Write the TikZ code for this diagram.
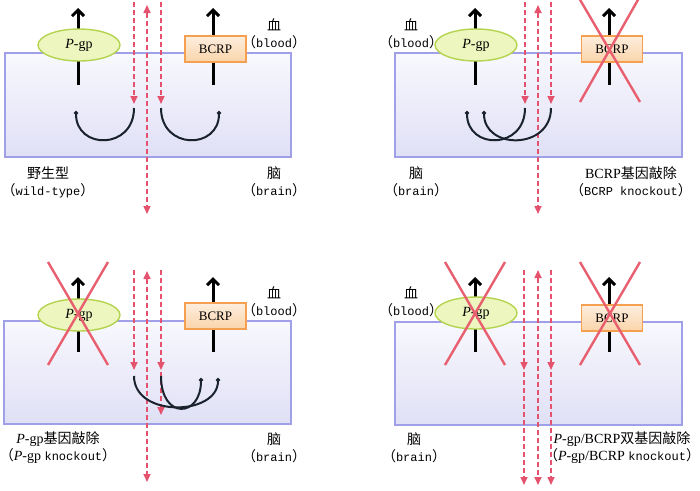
\documentclass[tikz,border=0pt]{standalone}
\usepackage{fontspec}
\setmainfont{Liberation Serif}
\newfontfamily\cjk{Noto Sans CJK SC}
\newfontfamily\latn{Liberation Mono}
\usetikzlibrary{arrows.meta,shapes.geometric}
\definecolor{layerline}{RGB}{160,160,232}
\definecolor{layertop}{RGB}{248,248,254}
\definecolor{layerbot}{RGB}{224,224,246}
\definecolor{pgpfill}{RGB}{236,246,190}
\definecolor{pgpline}{RGB}{180,212,80}
\definecolor{bcrptop}{RGB}{253,238,222}
\definecolor{bcrpbot}{RGB}{250,212,170}
\definecolor{bcrpline}{RGB}{244,160,80}
\definecolor{xred}{RGB}{232,96,112}
\definecolor{leakred}{RGB}{228,82,110}
\definecolor{backcol}{RGB}{25,35,45}
\newcommand{\zh}[1]{{\cjk #1}}
\newcommand{\en}[1]{{\latn\fontsize{12}{17}\selectfont #1}}
\tikzset{
  layer/.style={draw=layerline,line width=1.4pt,top color=layertop,bottom color=layerbot,inner sep=0pt},
  pgp/.style={ellipse,draw=pgpline,line width=1.4pt,fill=pgpfill,minimum width=82pt,minimum height=32pt,inner sep=0pt,font=\fontsize{14}{16}\selectfont},
  bcrp/.style={draw=bcrpline,line width=1.4pt,top color=bcrptop,bottom color=bcrpbot,minimum width=61pt,minimum height=26pt,inner sep=0pt,font=\fontsize{13}{15}\selectfont},
  pump/.style={line width=3pt,-{Straight Barb[length=6pt,width=12pt]}},
  leak/.style={draw=leakred,line width=1.6pt,dash pattern=on 5pt off 3pt,-{Triangle[length=8pt,width=7pt]}},
  leakboth/.style={leak,{Triangle[length=8pt,width=7pt]}-{Triangle[length=8pt,width=7pt]}},
  back/.style={draw=backcol,line width=2pt,-{Circle[length=4pt]}},
  knock/.style={draw=xred,line width=2.4pt},
  lbl/.style={font=\fontsize{14}{17}\selectfont,align=center,inner sep=0pt}
}
\begin{document}
\begin{tikzpicture}[x=1pt,y=-1pt]
\useasboundingbox (0,0) rectangle (700,490);

% wild type
\node[layer,minimum width=286pt,minimum height=104pt] (brain1) at (148,105) {};
\draw[pump] (78,85) coordinate (p1b) -- (78,8) coordinate (p1t);
\node[pgp] (pgp1) at (79,45) {\textit{P}-gp};
\draw[pump] (213,85) coordinate (b1b) -- (213,8) coordinate (b1t);
\node[bcrp] (bcrp1) at (215.5,49) {BCRP};
\draw[leak] (134,2) coordinate (l1t) -- (134,104) coordinate (l1b);
\draw[leak] (161,2) coordinate (r1t) -- (161,104) coordinate (r1b);
\draw[leakboth] (147,5) coordinate (m1t) -- (147,214) coordinate (m1b);
\draw[back] (134,108) .. controls (134,150) and (76,150) .. (76,111);
\draw[back] (161,108) .. controls (161,150) and (219,150) .. (219,111);
\node[lbl] (blood1) at (274,34) {\zh{血}\\\zh{（}\en{blood}\zh{）}};
\node[lbl] (wt) at (48,182) {\zh{野生型}\\\zh{（}\en{wild-type}\zh{）}};
\node[lbl] (brainl1) at (274,182) {\zh{脑}\\\zh{（}\en{brain}\zh{）}};

% BCRP knockout
\node[layer,minimum width=287pt,minimum height=104pt] (brain2) at (538.5,105) {};
\draw[pump] (475,85) coordinate (p2b) -- (475,8) coordinate (p2t);
\node[pgp] (pgp2) at (476,45) {\textit{P}-gp};
\draw[pump] (609,85) coordinate (b2b) -- (609,8) coordinate (b2t);
\node[bcrp] (bcrp2) at (612,49) {BCRP};
\draw[knock] (579,-2) -- (640,102);
\draw[knock] (639,-2) -- (580,102);
\draw[leak] (525,2) coordinate (l2t) -- (525,104) coordinate (l2b);
\draw[leak] (551,2) coordinate (r2t) -- (551,104) coordinate (r2b);
\draw[leakboth] (538,5) coordinate (m2t) -- (538,214) coordinate (m2b);
\draw[back] (525,108) .. controls (525,150) and (467,150) .. (467,111);
\draw[back] (551,108) .. controls (551,150) and (484,150) .. (484,111);
\node[lbl] (blood2) at (411,34) {\zh{血}\\\zh{（}\en{blood}\zh{）}};
\node[lbl] (brainl2) at (416,182) {\zh{脑}\\\zh{（}\en{brain}\zh{）}};
\node[lbl] (ko2) at (631,182) {BCRP\zh{基因敲除}\\\zh{（}\en{BCRP knockout}\zh{）}};

% P-gp knockout
\node[layer,minimum width=287pt,minimum height=103pt] (brain3) at (147.5,372.5) {};
\draw[pump] (78,352) coordinate (p3b) -- (78,277) coordinate (p3t);
\node[pgp] (pgp3) at (79,315) {\textit{P}-gp};
\draw[knock] (48,262) -- (108,365);
\draw[knock] (108,262) -- (48,365);
\draw[pump] (213,352) coordinate (b3b) -- (213,277) coordinate (b3t);
\node[bcrp] (bcrp3) at (215.5,316) {BCRP};
\draw[leak] (134,270) coordinate (l3t) -- (134,370) coordinate (l3b);
\draw[leak] (161,270) coordinate (r3t) -- (161,370) coordinate (r3b);
\draw[leak] (161,372) -- (161,415) coordinate (r3e);
\draw[leakboth] (147,271) coordinate (m3t) -- (147,482) coordinate (m3b);
\draw[back] (134,376) .. controls (134,418) and (218,416) .. (218,378);
\draw[back] (161,376) .. controls (161,420) and (201,418) .. (201,378);
\node[lbl] (blood3) at (274,302) {\zh{血}\\\zh{（}\en{blood}\zh{）}};
\node[lbl] (ko3) at (58,448) {\textit{P}-gp\zh{基因敲除}\\\zh{（}\textit{P}-gp \en{knockout}\zh{）}};
\node[lbl] (brainl3) at (274,448) {\zh{脑}\\\zh{（}\en{brain}\zh{）}};

% P-gp/BCRP knockout
\node[layer,minimum width=287pt,minimum height=103pt] (brain4) at (538.5,373.5) {};
\draw[pump] (475,352) coordinate (p4b) -- (475,277) coordinate (p4t);
\node[pgp] (pgp4) at (476,313) {\textit{P}-gp};
\draw[knock] (445,262) -- (505,365);
\draw[knock] (505,262) -- (445,365);
\draw[pump] (609,352) coordinate (b4b) -- (609,277) coordinate (b4t);
\node[bcrp] (bcrp4) at (612,318) {BCRP};
\draw[knock] (580,262) -- (640,365);
\draw[knock] (640,262) -- (580,365);
\draw[leak] (524,270) coordinate (l4t) -- (524,370) coordinate (l4b);
\draw[leak] (524,372) -- (524,485) coordinate (l4e);
\draw[leak] (551,270) coordinate (r4t) -- (551,370) coordinate (r4b);
\draw[leak] (551,372) -- (551,485) coordinate (r4e);
\draw[leakboth] (538,270) coordinate (m4t) -- (538,485) coordinate (m4b);
\node[lbl] (blood4) at (411,302) {\zh{血}\\\zh{（}\en{blood}\zh{）}};
\node[lbl] (brainl4) at (414,448) {\zh{脑}\\\zh{（}\en{brain}\zh{）}};
\node[lbl] (ko4) at (622,448) {\textit{P}-gp/BCRP\zh{双基因敲除}\\\zh{（}\textit{P}-gp/BCRP \en{knockout}\zh{）}};
\end{tikzpicture}
\end{document}
